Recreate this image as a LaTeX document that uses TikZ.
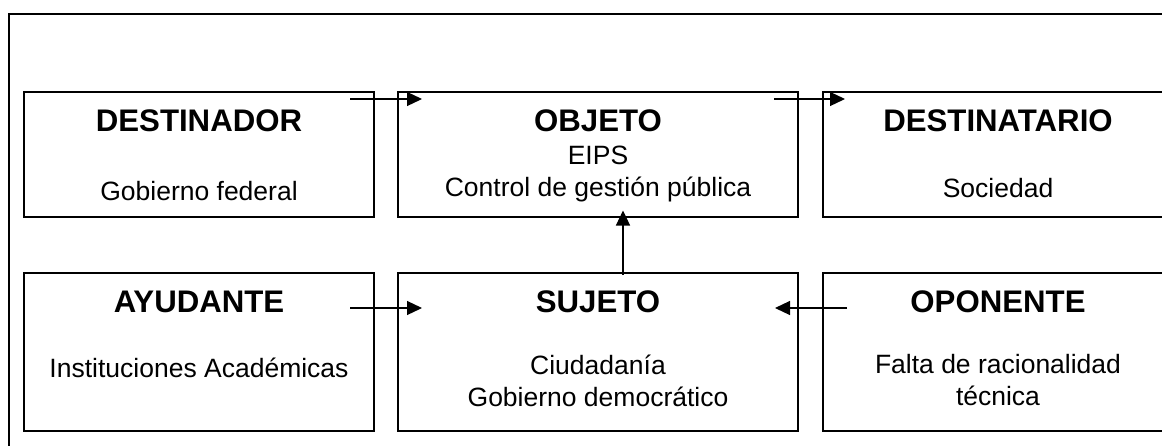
\documentclass[tikz,border=0pt]{standalone}
\usepackage{fontspec}
\setmainfont{Liberation Sans}
\usetikzlibrary{arrows.meta}
\tikzset{
  actbox/.style={draw,line width=1pt,rectangle,inner sep=0pt,anchor=north west},
  acttitle/.style={font=\fontsize{15.6}{18}\selectfont\bfseries,inner sep=0pt,anchor=base},
  acttext/.style={font=\fontsize{13.25}{16}\selectfont,align=center,inner sep=0pt,anchor=base},
  conn/.style={line width=0.6pt,-{Triangle[length=7.5pt,width=7pt]}}
}
% box, bold title and text; #6 = baseline of the last text line below the box top
\newcommand{\actbox}[7]{\node[actbox,minimum width=#3,minimum height=#4] at (#1) (#2) {};
  \node[acttitle] at ([shift={(0,40.5)}]#2.north) (#2-title) {#5};
  \node[acttext] at ([shift={(0,#6)}]#2.north) (#2-text) {#7}}

\begin{document}
\begin{tikzpicture}[x=0.5pt,y=-0.5pt]
	\useasboundingbox (0,0) rectangle (1162,445);
	\clip (0,0) rectangle (1162,445);
	\draw[line width=1pt] (9,14) rectangle (1180,460);
	
	\actbox{23,90.5}{destinador}{175pt}{62.5pt}{DESTINADOR}{109.5}{Gobierno federal};
	\actbox{397,90.5}{objeto}{200pt}{62.5pt}{OBJETO}{105.5}{EIPS\\Control de gestión pública};
	\actbox{822,90.5}{destinatario}{175pt}{62.5pt}{DESTINATARIO}{106.5}{Sociedad};
	\actbox{23,272}{ayudante}{175pt}{78.75pt}{AYUDANTE}{105}{Instituciones Académicas};
	\actbox{397,272}{sujeto}{200pt}{78.75pt}{SUJETO}{134}{Ciudadanía\\Gobierno democrático};
	\actbox{822,272}{oponente}{175pt}{78.75pt}{OPONENTE}{133}{Falta de racionalidad\\técnica};
	
	\draw[conn] ([shift={(-25,8.5)}]destinador.north east) -- ([shift={(25,8.5)}]objeto.north west);
	\draw[conn] ([shift={(-25,8.5)}]objeto.north east) -- ([shift={(23,8.5)}]destinatario.north west);
	\draw[conn] ([shift={(25,3)}]sujeto.north) -- ([shift={(25,-7)}]objeto.south);
	\draw[conn] ([shift={(-25,36)}]ayudante.north east) -- ([shift={(25,36)}]sujeto.north west);
	\draw[conn] ([shift={(25,36)}]oponente.north west) -- ([shift={(-24,36)}]sujeto.north east);
\end{tikzpicture}
\end{document}
